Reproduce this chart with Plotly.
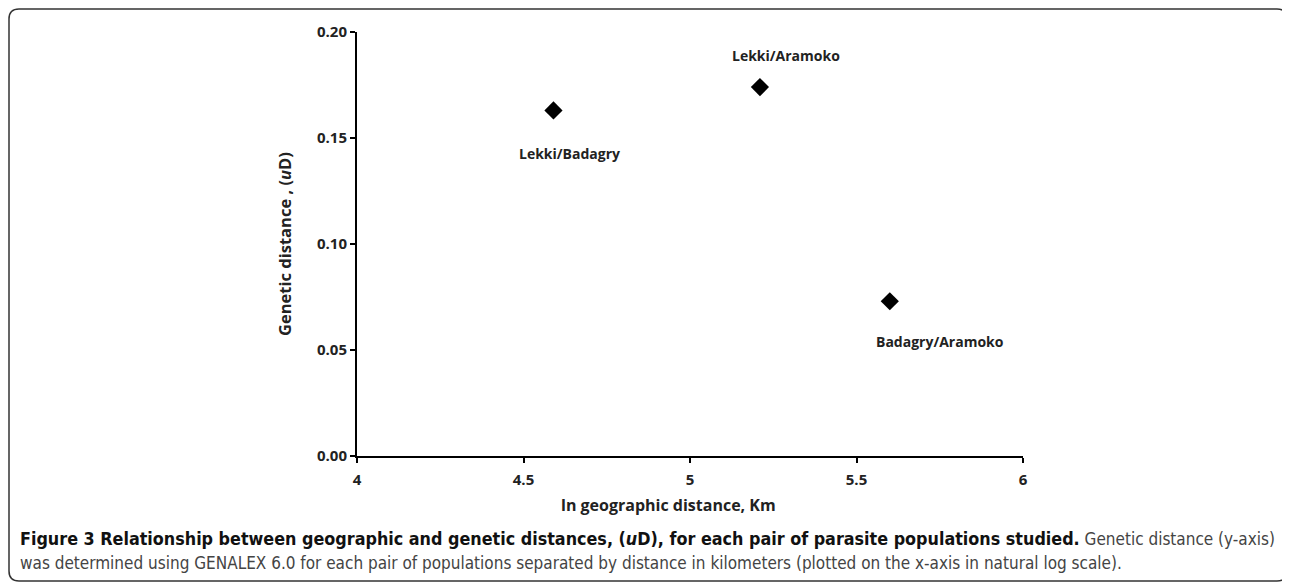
import plotly.graph_objects as go

# Data
pairs = ["Lekki/Badagry", "Lekki/Aramoko", "Badagry/Aramoko"]
ln_geo_dist = [4.59, 5.21, 5.60]
genetic_dist = [0.163, 0.174, 0.073]
label_dx = [16, 26, 50]
label_dy = [-43, 32, -40]
x_ticks = [4, 4.5, 5, 5.5, 6]
x_ticktext = ["4", "4.5", "5", "5.5", "6"]
y_ticks = [0.0, 0.05, 0.10, 0.15, 0.20]
y_ticktext = ["0.00", "0.05", "0.10", "0.15", "0.20"]

# page body has an 8px margin; work in figure pixel coords
OFF = 8
W, H = 1290 - OFF, 585 - OFF
L, T = 357 - OFF, 32 - OFF
R = W - (1023 - OFF)
B = H - (456 - OFF)
pw, ph = W - L - R, H - T - B

def px2paper(x, y):
    # x, y in screen pixel coords
    x, y = x - OFF, y - OFF
    return (x - L) / pw, (H - B - y) / ph

CHART_FONT = "Open Sans, Lato, sans-serif"
CAP_FONT = "Liberation Sans Narrow, DejaVu Sans Condensed, Roboto Condensed, Noto Sans, sans-serif"

fig = go.Figure()
fig.add_trace(go.Scatter(
    x=ln_geo_dist, y=genetic_dist, mode="markers",
    marker=dict(symbol="diamond", size=14, color="black"),
    hoverinfo="skip", showlegend=False,
))

for name, xv, yv, dx, dy in zip(pairs, ln_geo_dist, genetic_dist, label_dx, label_dy):
    fig.add_annotation(x=xv, y=yv, text=f"<b>{name}</b>", showarrow=False,
                       xanchor="center", yanchor="middle",
                       xshift=dx, yshift=dy,
                       font=dict(family=CHART_FONT, size=14, color="#222"))

def rounded_path(x0, y0, x1, y1, r):
    def P(x, y):
        a, b = px2paper(x, y)
        return f"{a:.5f},{b:.5f}"
    return (f"M {P(x0 + r, y0)} L {P(x1 - r, y0)} Q {P(x1, y0)} {P(x1, y0 + r)} "
            f"L {P(x1, y1 - r)} Q {P(x1, y1)} {P(x1 - r, y1)} "
            f"L {P(x0 + r, y1)} Q {P(x0, y1)} {P(x0, y1 - r)} "
            f"L {P(x0, y0 + r)} Q {P(x0, y0)} {P(x0 + r, y0)} Z")

fig.add_shape(type="path", xref="paper", yref="paper",
              path=rounded_path(9, 9, 1287, 581, 10),
              line=dict(color="#333", width=1.5), layer="below")

# axis title x
ax, ay = px2paper(668, 505)
fig.add_annotation(xref="paper", yref="paper", x=ax, y=ay, xanchor="center", yanchor="middle",
                   text="<b>ln geographic distance, Km</b>",
                   showarrow=False, font=dict(family=CHART_FONT, size=16, color="#222"))
# axis title y
ax, ay = px2paper(284, 244)
fig.add_annotation(xref="paper", yref="paper", x=ax, y=ay, xanchor="center", yanchor="middle",
                   text="<b>Genetic distance , (<i>u</i>D)</b>",
                   showarrow=False, textangle=-90, font=dict(family=CHART_FONT, size=16.5, color="#222"))

# caption
cx, cy = px2paper(18, 538)
fig.add_annotation(xref="paper", yref="paper", x=cx, y=cy, xanchor="left", yanchor="middle",
                   text="<span style='font-size:17.8px'><b>Figure 3 Relationship between geographic and genetic distances, (<i>u</i>D), for each pair of parasite populations studied.</b></span>"
                        "<span style='color:#444'> Genetic distance (y-axis)</span>",
                   showarrow=False, font=dict(family=CAP_FONT, size=17, color="#111"))
cx, cy = px2paper(18, 563)
fig.add_annotation(xref="paper", yref="paper", x=cx, y=cy, xanchor="left", yanchor="middle",
                   text="was determined using GENALEX 6.0 for each pair of populations separated by distance in kilometers (plotted on the x-axis in natural log scale).",
                   showarrow=False, font=dict(family=CAP_FONT, size=17, color="#444"))

fig.update_layout(
    width=W, height=H,
    margin=dict(l=L, r=R, t=T, b=B, pad=0),
    paper_bgcolor="white", plot_bgcolor="white",
    xaxis=dict(range=[4, 6], tickvals=x_ticks, ticktext=[f"<b>{t}</b>" for t in x_ticktext],
               showgrid=False, zeroline=False, showline=True, linecolor="black", linewidth=2,
               ticks="outside", ticklen=5, tickwidth=2, tickcolor="black",
               ticklabelstandoff=4,
               tickfont=dict(family=CHART_FONT, size=15, color="#222")),
    yaxis=dict(range=[0, 0.2], tickvals=y_ticks, ticktext=[f"<b>{t}</b>" for t in y_ticktext],
               showgrid=False, zeroline=False, showline=True, linecolor="black", linewidth=2,
               ticks="outside", ticklen=5, tickwidth=2, tickcolor="black",
               tickfont=dict(family=CHART_FONT, size=15, color="#222")),
)

fig.write_html("out.html")
